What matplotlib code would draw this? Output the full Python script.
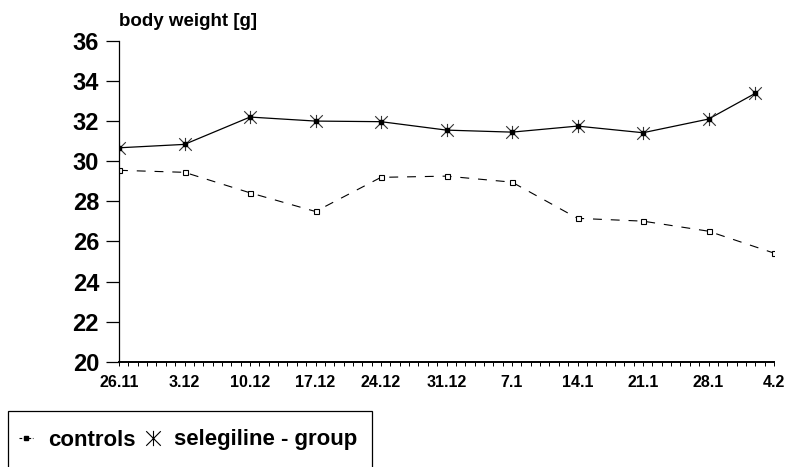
import matplotlib
matplotlib.use("Agg")
import matplotlib.pyplot as plt
from matplotlib.path import Path
from matplotlib.lines import Line2D
from matplotlib.patches import Rectangle

plt.rcParams['font.family'] = ['Liberation Sans', 'DejaVu Sans']
plt.rcParams['font.weight'] = 'bold'

# Days since 26.11 for each weighing
control_days = [0, 7, 14, 21, 28, 35, 42, 49, 56, 63, 70]
control_weight = [29.54, 29.44, 28.42, 27.49, 29.19, 29.25, 28.95, 27.15, 27.01, 26.51, 25.42]

selegiline_days = [0, 7, 14, 21, 28, 35, 42, 49, 56, 63, 68]
selegiline_weight = [30.66, 30.83, 32.19, 31.99, 31.96, 31.54, 31.44, 31.74, 31.41, 32.09, 33.37]

week_ticks = [0, 7, 14, 21, 28, 35, 42, 49, 56, 63, 70]
week_labels = ['26.11', '3.12', '10.12', '17.12', '24.12', '31.12',
               '7.1', '14.1', '21.1', '28.1', '4.2']
y_ticks = [20, 22, 24, 26, 28, 30, 32, 34, 36]

# Six-armed star: an X crossed by a vertical stroke
star = Path([(-1, -1), (1, 1), (-1, 1), (1, -1), (0, -1.05), (0, 1.05)],
            [Path.MOVETO, Path.LINETO, Path.MOVETO, Path.LINETO, Path.MOVETO, Path.LINETO])

fig = plt.figure(figsize=(7.87, 4.67), dpi=100)
ax = fig.add_axes([119 / 787, 1 - 362 / 467, 655 / 787, 321.5 / 467])

ax.plot(control_days, control_weight, color='black', lw=0.8,
        linestyle=(0, (8, 8)), marker='s', ms=3.6, mfc='white', mec='black', mew=0.8)
ax.plot(selegiline_days, selegiline_weight, color='black', lw=0.9,
        marker=star, ms=9.5, mew=0.8, mec='#333333')
ax.plot(selegiline_days, selegiline_weight, linestyle='none', marker='s',
        ms=2.6, color='black')

ax.set_xlim(0, 70)
ax.set_ylim(20, 36)
ax.set_xticks(week_ticks)
ax.set_xticklabels(week_labels)
ax.set_xticks(range(0, 71), minor=True)
ax.set_yticks(y_ticks)
ax.set_yticklabels([str(v) for v in y_ticks])

for side in ('top', 'right'):
    ax.spines[side].set_visible(False)
ax.spines['left'].set_linewidth(0.9)
ax.spines['bottom'].set_linewidth(1.4)

ax.tick_params(axis='y', which='major', direction='out', length=9.4, width=0.9,
               pad=5.0, labelsize=17)
ax.tick_params(axis='x', which='both', direction='out', length=3.2, width=0.7,
               pad=6.5, labelsize=11.5)
for lab in ax.get_xticklabels() + ax.get_yticklabels():
    lab.set_fontweight('bold')

fig.text(119 / 787, 1 - 26 / 467, 'body weight [g]', fontsize=13.5,
         fontweight='bold', ha='left', va='baseline')

# Legend box running off the lower edge
fig.patches.append(Rectangle((8 / 787, 1 - 472 / 467), 364 / 787, 61 / 467,
                             transform=fig.transFigure, fill=False,
                             edgecolor='black', linewidth=0.9))

handles = [
    Line2D([], [], color='black', lw=0.8, linestyle=(0, (2.5, 1.5)), marker='s',
           ms=3, mfc='black', mec='black'),
    Line2D([], [], color='black', linestyle='none', marker=star, ms=11, mew=0.8),
]
leg = fig.legend(handles, ['controls', 'selegiline - group'], ncol=2,
                 loc='center left', bbox_to_anchor=(19 / 787, 1 - 440 / 467),
                 prop={'size': 16, 'weight': 'bold'}, frameon=False,
                 borderpad=0, handlelength=0.65, handletextpad=0.65,
                 columnspacing=0.45, borderaxespad=0)

fig.savefig('out.png', dpi=100)
